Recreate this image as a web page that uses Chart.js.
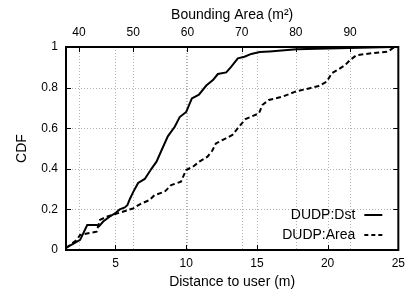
<!DOCTYPE html>
<html>
<head>
<meta charset="utf-8">
<script src="https://cdn.jsdelivr.net/npm/chart.js@4.4.1/dist/chart.umd.min.js"></script>
<style>
  html, body { margin: 0; padding: 0; background: #fff; }
  #wrap { width: 411px; height: 297px; }
</style>
</head>
<body>
<div id="wrap"><canvas id="cdfChart"></canvas></div>
<script>
  // distance to user (m) vs CDF
  const dstDistance = [1.5, 2.0, 2.5, 3.0, 3.66, 3.85, 4.13, 4.6, 4.96, 5.3, 5.66, 5.85, 6.01, 6.25, 6.6, 7.07, 7.54, 7.9, 8.25, 8.7, 9.19, 9.54, 10.0, 10.4, 10.9, 11.42, 11.89, 12.24, 12.83, 13.19, 13.65, 14.12, 14.6, 15.2, 15.9, 17.8, 21.5, 24.6];
  const dstCdf = [0.01, 0.03, 0.05, 0.123, 0.123, 0.118, 0.14, 0.165, 0.18, 0.2, 0.21, 0.222, 0.25, 0.285, 0.33, 0.35, 0.4, 0.435, 0.49, 0.56, 0.607, 0.655, 0.68, 0.747, 0.765, 0.81, 0.837, 0.867, 0.875, 0.903, 0.944, 0.952, 0.966, 0.975, 0.978, 0.989, 0.995, 1.0];

  // bounding area (m2) vs CDF, plotted on the top axis
  const areaValues = [37.6, 39.6, 40.2, 41.7, 43.25, 43.85, 45.1, 47.5, 50.0, 51.2, 53.0, 53.9, 55.8, 57.0, 58.8, 59.75, 61.0, 62.2, 63.7, 64.6, 65.25, 67.1, 68.3, 69.5, 70.7, 73.2, 73.8, 75.0, 77.5, 79.9, 82.4, 84.2, 85.7, 86.6, 87.9, 89.1, 90.0, 91.2, 94.0, 97.0, 97.8, 98.25];
  const areaCdf = [0.01, 0.05, 0.074, 0.082, 0.09, 0.148, 0.164, 0.184, 0.205, 0.225, 0.246, 0.27, 0.287, 0.32, 0.336, 0.394, 0.41, 0.435, 0.46, 0.49, 0.525, 0.55, 0.567, 0.607, 0.645, 0.673, 0.714, 0.739, 0.755, 0.78, 0.796, 0.808, 0.829, 0.87, 0.89, 0.911, 0.936, 0.96, 0.969, 0.977, 0.993, 1.0];

  const distanceTicks = [5, 10, 15, 20, 25];
  const areaTicks = [40, 50, 60, 70, 80, 90];
  const cdfTicks = [0, 0.2, 0.4, 0.6, 0.8, 1];

  const seriesLabels = ['DUDP:Dst', 'DUDP:Area'];

  const FONT = "'Liberation Sans', Arial, sans-serif";
  Chart.defaults.font.family = FONT;
  Chart.defaults.color = '#000';

  const noGrid = { display: false, drawTicks: false };
  const noBorder = { display: false };

  const setTicks = (vals) => (scale) => { scale.ticks = vals.map(v => ({ value: v })); };

  /*
  | dotted grid under the curves
   */
  const gridPlugin = {
    id: 'dottedGrid',
    beforeDatasetsDraw(chart) {
      const { ctx, chartArea: ca, scales } = chart;
      ctx.save();
      ctx.strokeStyle = '#b4b4b4';
      ctx.lineWidth = 1;
      ctx.setLineDash([1, 2]);
      ctx.beginPath();
      ['x', 'x2'].forEach(id => {
        scales[id].ticks.forEach(t => {
          const px = Math.round(scales[id].getPixelForValue(t.value)) + 0.5;
          ctx.moveTo(px, ca.top); ctx.lineTo(px, ca.bottom);
        });
      });
      scales.y.ticks.forEach(t => {
        const py = Math.round(scales.y.getPixelForValue(t.value)) + 0.5;
        ctx.moveTo(ca.left, py); ctx.lineTo(ca.right, py);
      });
      ctx.stroke();
      ctx.restore();
    }
  };

  /*
  | frame + inward tick marks + legend (gnuplot look)
   */
  const framePlugin = {
    id: 'frame',
    afterDatasetsDraw(chart) {
      const { ctx, chartArea: ca, scales } = chart;
      const len = 5;
      ctx.save();
      ctx.strokeStyle = '#000';
      ctx.lineWidth = 1;
      ctx.beginPath();
      scales.x.ticks.forEach(t => {
        const px = Math.round(scales.x.getPixelForValue(t.value)) + 0.5;
        ctx.moveTo(px, ca.bottom); ctx.lineTo(px, ca.bottom - len);
      });
      scales.x2.ticks.forEach(t => {
        const px = Math.round(scales.x2.getPixelForValue(t.value)) + 0.5;
        ctx.moveTo(px, ca.top); ctx.lineTo(px, ca.top + len);
      });
      scales.y.ticks.forEach(t => {
        const py = Math.round(scales.y.getPixelForValue(t.value)) + 0.5;
        ctx.moveTo(ca.left, py); ctx.lineTo(ca.left + len, py);
        ctx.moveTo(ca.right, py); ctx.lineTo(ca.right - len, py);
      });
      ctx.stroke();
      ctx.lineWidth = 2;
      ctx.strokeRect(ca.left, ca.top, ca.right - ca.left, ca.bottom - ca.top);

      // legend inside, bottom right, text left of the sample
      ctx.font = '14px ' + FONT;
      ctx.textAlign = 'right';
      ctx.textBaseline = 'middle';
      ctx.fillStyle = '#000';
      chart.data.datasets.forEach((ds, i) => {
        const y = ca.bottom - 35 + i * 20;
        ctx.fillText(ds.label, ca.right - 43, y);
        ctx.lineWidth = ds.borderWidth;
        ctx.setLineDash(ds.borderDash ? [4, 3] : []);
        ctx.beginPath();
        ctx.moveTo(ca.right - 34, y);
        ctx.lineTo(ca.right - 16, y);
        ctx.stroke();
      });
      ctx.restore();
    }
  };

  const ctx = document.getElementById('cdfChart');
  new Chart(ctx, {
    type: 'line',
    data: {
      datasets: [{
        label: seriesLabels[0],
        data: dstDistance.map((d, i) => ({ x: d, y: dstCdf[i] })),
        xAxisID: 'x',
        borderColor: '#000',
        borderWidth: 2,
        pointRadius: 0,
        tension: 0,
        fill: false
      }, {
        label: seriesLabels[1],
        data: areaValues.map((a, i) => ({ x: a, y: areaCdf[i] })),
        xAxisID: 'x2',
        borderColor: '#000',
        borderWidth: 2,
        borderDash: [5, 3],
        pointRadius: 0,
        tension: 0,
        fill: false
      }]
    },
    options: {
      responsive: true,
      maintainAspectRatio: false,
      animation: false,
      layout: { padding: { left: 0, right: 11, top: 0, bottom: 0 } },
      plugins: {
        legend: { display: false },
        tooltip: { enabled: false }
      },
      scales: {
        x: {
          type: 'linear',
          position: 'bottom',
          min: 1.5,
          max: 25,
          afterBuildTicks: setTicks(distanceTicks),
          afterFit: (s) => { s.height = 47; },
          grid: noGrid,
          border: noBorder,
          ticks: { font: { size: 12 }, padding: 6, maxRotation: 0 },
          title: { display: true, text: 'Distance to user (m)', font: { size: 14 }, padding: { top: 0, bottom: 6 } }
        },
        x2: {
          type: 'linear',
          position: 'top',
          min: 37.6,
          max: 98.9,
          afterBuildTicks: setTicks(areaTicks),
          afterFit: (s) => { s.height = 47; },
          grid: noGrid,
          border: noBorder,
          ticks: { font: { size: 12 }, padding: 7, maxRotation: 0 },
          title: { display: true, text: 'Bounding Area (m²)', font: { size: 14 }, padding: { top: 7, bottom: 0 } }
        },
        y: {
          type: 'linear',
          min: 0,
          max: 1,
          afterBuildTicks: setTicks(cdfTicks),
          afterFit: (s) => { s.width = 66; },
          grid: noGrid,
          border: noBorder,
          ticks: { font: { size: 12 }, padding: 8, callback: (v) => String(v) },
          title: { display: true, text: 'CDF', font: { size: 14 }, padding: { top: 14, bottom: 0 } }
        }
      }
    },
    plugins: [gridPlugin, framePlugin]
  });
</script>
</body>
</html>
